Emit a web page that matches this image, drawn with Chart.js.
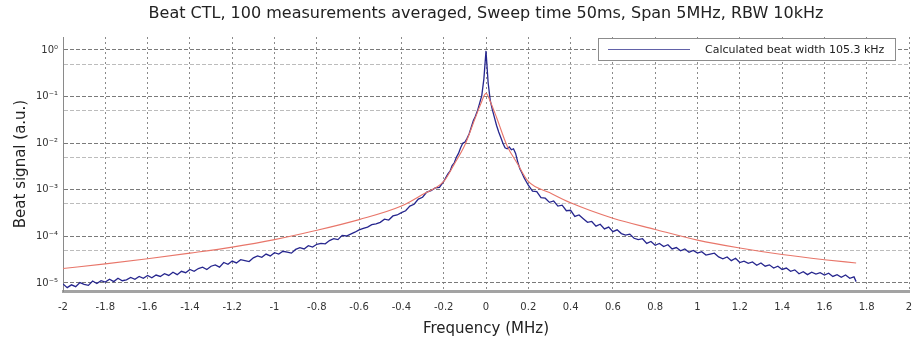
<!DOCTYPE html>
<html>
<head>
<meta charset="utf-8">
<script src="https://cdn.jsdelivr.net/npm/chart.js@4.4.0/dist/chart.umd.min.js"></script>
<style>
  html, body { margin: 0; padding: 0; background: #fff; }
  #wrap { width: 924px; height: 343px; }
</style>
</head>
<body>
<div id="wrap"><canvas id="beatChart" width="924" height="343"></canvas></div>
<script>
const beatFreq = [
  -2, -1.98, -1.96, -1.94, -1.92, -1.9, -1.88, -1.86, -1.84, -1.82,
  -1.8, -1.78, -1.76, -1.74, -1.72, -1.7, -1.68, -1.66, -1.64, -1.62,
  -1.6, -1.58, -1.56, -1.54, -1.52, -1.5, -1.48, -1.46, -1.44, -1.42,
  -1.4, -1.38, -1.36, -1.34, -1.32, -1.3, -1.28, -1.26, -1.24, -1.22,
  -1.2, -1.18, -1.16, -1.14, -1.12, -1.1, -1.08, -1.06, -1.04, -1.02,
  -1, -0.98, -0.96, -0.94, -0.92, -0.9, -0.88, -0.86, -0.84, -0.82,
  -0.8, -0.78, -0.76, -0.74, -0.72, -0.7, -0.68, -0.66, -0.64, -0.62,
  -0.6, -0.58, -0.56, -0.54, -0.52, -0.5, -0.48, -0.46, -0.44, -0.42,
  -0.4, -0.38, -0.36, -0.34, -0.32, -0.3, -0.28, -0.26, -0.24, -0.22,
  -0.2,
  -0.19, -0.18, -0.17, -0.16, -0.15, -0.14, -0.13, -0.12, -0.11, -0.1,
  -0.09, -0.08, -0.07, -0.06, -0.05, -0.04, -0.03, -0.02, -0.01, 0,
  0.01, 0.02, 0.03, 0.04, 0.05, 0.06, 0.07, 0.08, 0.09, 0.1,
  0.11, 0.12, 0.13, 0.14, 0.15, 0.16, 0.17, 0.18, 0.19,
  0.2, 0.22, 0.24, 0.26, 0.28, 0.3, 0.32, 0.34, 0.36, 0.38,
  0.4, 0.42, 0.44, 0.46, 0.48, 0.5, 0.52, 0.54, 0.56, 0.58,
  0.6, 0.62, 0.64, 0.66, 0.68, 0.7, 0.72, 0.74, 0.76, 0.78,
  0.8, 0.82, 0.84, 0.86, 0.88, 0.9, 0.92, 0.94, 0.96, 0.98,
  1, 1.02, 1.04, 1.06, 1.08, 1.1, 1.12, 1.14, 1.16, 1.18,
  1.2, 1.22, 1.24, 1.26, 1.28, 1.3, 1.32, 1.34, 1.36, 1.38,
  1.4, 1.42, 1.44, 1.46, 1.48, 1.5, 1.52, 1.54, 1.56, 1.58,
  1.6, 1.62, 1.64, 1.66, 1.68, 1.7, 1.72, 1.74, 1.75
];
const beatSignal = [
  9.55e-6, 7.94e-6, 9.12e-6, 8.32e-6, 1.02e-5, 9.33e-6, 8.9e-6, 1.10e-5, 9.77e-6, 1.12e-5,
  1.05e-5, 1.20e-5, 1.07e-5, 1.26e-5, 1.12e-5, 1.17e-5, 1.32e-5, 1.20e-5, 1.38e-5, 1.26e-5,
  1.45e-5, 1.29e-5, 1.48e-5, 1.38e-5, 1.58e-5, 1.45e-5, 1.70e-5, 1.51e-5, 1.78e-5, 1.66e-5,
  1.95e-5, 1.78e-5, 2.04e-5, 2.19e-5, 1.95e-5, 2.29e-5, 2.45e-5, 2.19e-5, 2.75e-5, 2.51e-5,
  2.95e-5, 2.69e-5, 3.16e-5, 3.02e-5, 2.88e-5, 3.47e-5, 3.80e-5, 3.55e-5, 4.17e-5, 3.80e-5,
  4.47e-5, 4.17e-5, 4.79e-5, 4.57e-5, 4.37e-5, 5.25e-5, 5.75e-5, 5.37e-5, 6.31e-5, 5.89e-5,
  6.76e-5, 7.08e-5, 6.92e-5, 8.13e-5, 8.91e-5, 8.51e-5, 1.05e-4, 1.02e-4, 1.12e-4, 1.23e-4,
  1.38e-4, 1.48e-4, 1.58e-4, 1.78e-4, 1.86e-4, 2.00e-4, 2.34e-4, 2.24e-4, 2.75e-4, 2.88e-4,
  3.24e-4, 3.55e-4, 4.47e-4, 4.90e-4, 6.31e-4, 6.92e-4, 8.91e-4, 9.55e-4, 1.10e-3, 1.12e-3,
  1.51e-3,
  1.82e-3, 2.19e-3, 2.51e-3, 3.31e-3, 3.80e-3, 5.01e-3, 6.03e-3, 7.94e-3, 1.00e-2, 1.05e-2,
  1.26e-2, 1.58e-2, 2.19e-2, 3.02e-2, 3.80e-2, 5.01e-2, 7.24e-2, 0.105, 0.240, 0.955,
  0.200, 8.32e-2, 5.25e-2, 3.55e-2, 2.40e-2, 1.74e-2, 1.32e-2, 1.00e-2, 7.94e-3, 7.59e-3,
  8.32e-3, 7.24e-3, 7.59e-3, 6.03e-3, 3.98e-3, 2.82e-3, 2.29e-3, 1.82e-3, 1.51e-3,
  1.26e-3, 9.33e-4, 9.12e-4, 6.76e-4, 6.61e-4, 5.37e-4, 5.75e-4, 4.47e-4, 4.68e-4, 3.55e-4,
  3.63e-4, 2.69e-4, 2.88e-4, 2.40e-4, 2.00e-4, 2.09e-4, 1.66e-4, 1.82e-4, 1.45e-4, 1.58e-4,
  1.26e-4, 1.38e-4, 1.15e-4, 1.07e-4, 1.12e-4, 9.12e-5, 8.51e-5, 8.91e-5, 7.08e-5, 7.76e-5,
  6.46e-5, 7.08e-5, 6.03e-5, 6.61e-5, 5.37e-5, 5.75e-5, 4.90e-5, 5.37e-5, 4.57e-5, 5.01e-5,
  4.37e-5, 4.68e-5, 3.98e-5, 4.17e-5, 4.37e-5, 3.63e-5, 3.31e-5, 3.63e-5, 3.02e-5, 3.39e-5,
  2.75e-5, 2.95e-5, 2.63e-5, 2.82e-5, 2.40e-5, 2.69e-5, 2.29e-5, 2.45e-5, 2.09e-5, 2.29e-5,
  1.95e-5, 2.09e-5, 1.78e-5, 1.91e-5, 1.58e-5, 1.74e-5, 1.51e-5, 1.70e-5, 1.55e-5, 1.66e-5,
  1.48e-5, 1.62e-5, 1.38e-5, 1.51e-5, 1.32e-5, 1.48e-5, 1.26e-5, 1.35e-5, 1.07e-5
];

// calculated (Lorentzian) beat curve
const fitFreq = [-2, -1.8, -1.6, -1.4, -1.2, -1, -0.8, -0.6, -0.4, -0.3, -0.2, -0.15, -0.1, -0.05, -0.025,
  0, 0.025, 0.05, 0.1, 0.15, 0.2, 0.3, 0.4, 0.6, 0.8, 1, 1.2, 1.4, 1.6, 1.75];
const fitSignal = [2.04e-5, 2.57e-5, 3.31e-5, 4.37e-5, 5.89e-5, 8.51e-5, 1.35e-4, 2.29e-4, 4.47e-4, 7.94e-4,
  1.51e-3, 3.55e-3, 9.12e-3, 3.55e-2, 6.92e-2, 0.117, 6.92e-2, 3.55e-2, 8.71e-3, 3.55e-3,
  1.51e-3, 8.71e-4, 5.25e-4, 2.45e-4, 1.41e-4, 8.32e-5, 5.62e-5, 4.07e-5, 3.16e-5, 2.69e-5];

const xTicks = [-2, -1.8, -1.6, -1.4, -1.2, -1, -0.8, -0.6, -0.4, -0.2, 0,
  0.2, 0.4, 0.6, 0.8, 1, 1.2, 1.4, 1.6, 1.8, 2];
const yDecades = [1e-5, 1e-4, 1e-3, 1e-2, 1e-1, 1];
const yHalfLines = [5e-5, 5e-4, 5e-3, 5e-2, 5e-1];

const titleText = 'Beat CTL, 100 measurements averaged, Sweep time 50ms, Span 5MHz, RBW 10kHz';
const legendText = 'Calculated beat width 105.3 kHz';

const FONT = 'DejaVu Sans';
const SUP = {'-': '\u207B', '0': '\u2070', '1': '\u00B9', '2': '\u00B2', '3': '\u00B3', '4': '\u2074', '5': '\u2075'};

function isDecade(v) {
    const l = Math.log10(v);
    return Math.abs(l - Math.round(l)) < 1e-6;
}

function supText(n) {
    return String(n).split('').map(c => SUP[c]).join('');
}

// title centred over the plot area, legend box inside the plot at top right
const plotDecor = {
    id: 'plotDecor',
    afterDatasetsDraw(chart) {
        const {ctx, chartArea} = chart;
        ctx.save();
        ctx.fillStyle = '#222';
        ctx.font = '16px "' + FONT + '"';
        ctx.textAlign = 'center';
        ctx.textBaseline = 'middle';
        ctx.fillText(titleText, (chartArea.left + chartArea.right) / 2, 14);

        const w = 297, h = 22;
        const x = chartArea.right - 311, y = chartArea.top + 1;
        ctx.fillStyle = '#fff';
        ctx.fillRect(x, y, w, h);
        ctx.strokeStyle = '#8c8c8c';
        ctx.lineWidth = 1;
        ctx.strokeRect(x + 0.5, y + 0.5, w, h);
        ctx.strokeStyle = '#6262a8';
        ctx.beginPath();
        ctx.moveTo(x + 10, y + 11.5);
        ctx.lineTo(x + 92, y + 11.5);
        ctx.stroke();
        ctx.fillStyle = '#222';
        ctx.font = '11px "' + FONT + '"';
        ctx.textAlign = 'left';
        ctx.fillText(legendText, x + 107, y + 12);
        ctx.restore();
    }
};

new Chart(document.getElementById('beatChart'), {
    type: 'line',
    data: {
        datasets: [{
            label: legendText,
            data: beatFreq.map((f, i) => ({x: f, y: beatSignal[i]})),
            borderColor: '#26268e',
            borderWidth: 1.3,
            pointRadius: 0,
            fill: false,
            tension: 0,
            order: 1,
        }, {
            label: 'fit',
            data: fitFreq.map((f, i) => ({x: f, y: fitSignal[i]})),
            borderColor: '#e8766a',
            borderWidth: 1.1,
            pointRadius: 0,
            fill: false,
            cubicInterpolationMode: 'monotone',
            order: 0,
        }],
    },
    options: {
        responsive: false,
        animation: false,
        devicePixelRatio: 1,
        layout: {
            padding: {left: 0, right: 15, top: 37, bottom: 0},
        },
        plugins: {
            legend: {display: false},
            tooltip: {enabled: false},
            title: {display: false},
        },
        scales: {
            x: {
                type: 'linear',
                min: -2,
                max: 2,
                afterBuildTicks: (scale) => {
                    scale.ticks = xTicks.map(v => ({value: v}));
                },
                afterFit: (scale) => {
                    scale.height = 52;
                },
                ticks: {
                    autoSkip: false,
                    maxRotation: 0,
                    padding: 10,
                    color: '#333',
                    font: {family: FONT, size: 10},
                    callback: (v) => String(Math.round(v * 10) / 10),
                },
                grid: {
                    color: '#8a8a8a',
                    lineWidth: 1,
                    drawTicks: false,
                },
                border: {
                    color: '#a3a3a3',
                    width: 3,
                    dash: [2, 3],
                },
                title: {
                    display: true,
                    text: 'Frequency (MHz)',
                    color: '#222',
                    font: {family: FONT, size: 15},
                    padding: {top: 0, bottom: 5},
                },
            },
            y: {
                type: 'logarithmic',
                min: 6.73e-6,
                max: 1.9,
                afterBuildTicks: (scale) => {
                    scale.ticks = yDecades.concat(yHalfLines).sort((a, b) => a - b).map(v => ({value: v}));
                },
                afterFit: (scale) => {
                    scale.width = 63;
                },
                ticks: {
                    autoSkip: false,
                    padding: 5,
                    color: '#333',
                    font: {family: FONT, size: 10},
                    callback: (v) => isDecade(v) ? '10' + supText(Math.round(Math.log10(v))) : '',
                },
                grid: {
                    color: (ctx) => (ctx.tick && isDecade(ctx.tick.value)) ? '#7a7a7a' : '#bcbcbc',
                    lineWidth: 1,
                    drawTicks: false,
                },
                border: {
                    color: '#8a8a8a',
                    width: 1,
                    dash: [4, 2],
                },
                title: {
                    display: true,
                    text: 'Beat signal (a.u.)',
                    color: '#222',
                    font: {family: FONT, size: 15},
                    padding: {top: 12, bottom: 0},
                },
            },
        },
    },
    plugins: [plotDecor],
});
</script>
</body>
</html>
